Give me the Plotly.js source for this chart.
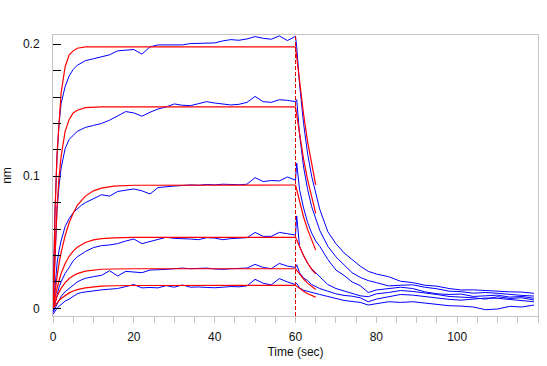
<!DOCTYPE html>
<html>
<head>
<meta charset="utf-8">
<script src="https://cdn.plot.ly/plotly-3.0.1.min.js"></script>
<style>
html,body{margin:0;padding:0;background:#fff;}
#chart{width:547px;height:366px;}
</style>
</head>
<body>
<div id="chart"></div>
<script>
// ---- data ----
const switchTime = 60;

const tBlue = [0,0.5,1,1.5,2,3,4,5,6,7,8,10,12,14,16,18,20,22,24,26,28,30,32,34,36,38,40,42,44,46,48,50,52,54,56,58,60,
  60.3,61,62,63,64,65,66,68,70,72,74,76,78,80,83,86,89,92,95,98,101,104,107,110,113,116,119];

const blue1 = [0.002,0.075,0.115,0.140,0.155,0.168,0.176,0.181,0.184,0.186,0.1876,0.189,0.1906,0.192,0.195,0.1955,0.196,0.1925,0.198,0.1995,0.1995,0.200,0.1995,0.2005,0.2008,0.2012,0.201,0.2025,0.2035,0.2030,0.204,0.2058,0.2045,0.2038,0.2063,0.2028,0.206,
  0.198,0.170,0.140,0.117,0.100,0.088,0.075,0.058,0.049,0.042,0.037,0.032,0.028,0.026,0.024,0.0205,0.0195,0.0175,0.0168,0.0150,0.0139,0.0140,0.0135,0.0128,0.0125,0.0123,0.0114];
const blue2 = [0.001,0.045,0.075,0.093,0.106,0.121,0.128,0.131,0.134,0.1355,0.137,0.1385,0.140,0.1425,0.146,0.149,0.148,0.1455,0.1485,0.151,0.1525,0.1548,0.1538,0.1535,0.155,0.1565,0.1555,0.1545,0.154,0.1545,0.156,0.1605,0.1565,0.156,0.158,0.1575,0.1565,
  0.158,0.132,0.107,0.090,0.077,0.068,0.059,0.047,0.039,0.033,0.027,0.0235,0.021,0.0195,0.017,0.0175,0.0178,0.0160,0.0148,0.0130,0.0126,0.0115,0.0120,0.0114,0.0105,0.0098,0.0093];
const blue3 = [-0.002,0.018,0.034,0.044,0.051,0.062,0.068,0.0725,0.0755,0.078,0.080,0.083,0.086,0.085,0.0885,0.0895,0.0904,0.0890,0.0866,0.0915,0.0922,0.0926,0.0930,0.0935,0.0932,0.0938,0.0935,0.0940,0.0938,0.0936,0.0940,0.0990,0.096,0.0968,0.0965,0.0995,0.097,
  0.110,0.090,0.076,0.065,0.057,0.051,0.047,0.037,0.029,0.025,0.020,0.0172,0.0120,0.0139,0.0150,0.0160,0.0150,0.0125,0.0110,0.0105,0.0108,0.0090,0.0095,0.0100,0.0085,0.0090,0.0076];
const blue4 = [-0.003,0.004,0.0116,0.016,0.020,0.0265,0.031,0.036,0.039,0.041,0.043,0.046,0.0475,0.048,0.049,0.051,0.0525,0.0490,0.0505,0.0525,0.0538,0.053,0.053,0.0525,0.052,0.0535,0.0532,0.052,0.0528,0.053,0.0535,0.0575,0.0545,0.0545,0.0575,0.0565,0.0555,
  0.070,0.047,0.040,0.034,0.030,0.027,0.024,0.018,0.015,0.013,0.011,0.0095,0.0088,0.011,0.012,0.0135,0.0128,0.0118,0.0105,0.0090,0.0086,0.0080,0.0070,0.0088,0.0075,0.0080,0.0063];
const blue5 = [-0.003,0.0,0.0038,0.0065,0.009,0.0126,0.015,0.0175,0.020,0.0215,0.0227,0.024,0.025,0.0285,0.0245,0.028,0.0275,0.027,0.029,0.029,0.0295,0.030,0.0305,0.030,0.0302,0.0305,0.0298,0.0295,0.030,0.030,0.0305,0.0333,0.031,0.030,0.034,0.032,0.031,
  0.033,0.027,0.023,0.021,0.018,0.0165,0.015,0.013,0.011,0.0098,0.0092,0.0080,0.0050,0.0070,0.0090,0.0105,0.0100,0.0088,0.0075,0.0068,0.0062,0.0070,0.0078,0.0076,0.0068,0.0060,0.0050];
const blue6 = [-0.0045,-0.002,0.0,0.0015,0.003,0.0055,0.007,0.009,0.011,0.012,0.0125,0.0132,0.014,0.0145,0.015,0.0165,0.018,0.0155,0.0158,0.0155,0.0172,0.016,0.0177,0.016,0.0162,0.0158,0.0156,0.016,0.0165,0.0163,0.017,0.022,0.019,0.0178,0.0225,0.020,0.018,
  0.019,0.0155,0.0137,0.0128,0.0120,0.0114,0.0105,0.0090,0.0075,0.0060,0.0052,0.0045,0.0025,0.0035,0.0050,0.0045,0.0050,0.0040,0.0030,0.0020,0.0017,0.0010,-0.0010,-0.0005,0.0015,0.0010,0.0025];

const tFitA = [0,0.5,1,1.5,2,3,4,5,6,8,10,12,15,20,60];
const tFitD = [60,61,62,63,64,65];

const red1A = [0,0.072,0.117,0.145,0.163,0.183,0.192,0.195,0.197,0.198,0.198,0.198,0.198,0.198,0.198];
const red2A = [0,0.045,0.077,0.099,0.115,0.134,0.143,0.148,0.150,0.152,0.1525,0.1525,0.1525,0.1525,0.1525];
const red3A = [0,0.013,0.024,0.034,0.042,0.055,0.065,0.072,0.078,0.085,0.089,0.091,0.0925,0.0932,0.0934];
const red4A = [0,0.0082,0.0152,0.0211,0.0262,0.0339,0.0394,0.0434,0.0463,0.0499,0.0518,0.0528,0.0534,0.0537,0.0538];
const red5A = [0,0.0048,0.0089,0.0123,0.0151,0.0195,0.0226,0.0247,0.0263,0.0282,0.0291,0.0296,0.0298,0.0300,0.0300];
const red6A = [0,0.0023,0.0043,0.0060,0.0074,0.0099,0.0117,0.0131,0.0142,0.0155,0.0164,0.0168,0.0171,0.0173,0.0174];

const red1D = [0.198,0.170,0.147,0.126,0.109,0.0935];
const red2D = [0.1525,0.131,0.113,0.0973,0.0837,0.072];
const red3D = [0.0934,0.0804,0.0692,0.0596,0.0513,0.0441];
const red4D = [0.0538,0.0463,0.0399,0.0343,0.0295,0.0262];
const red5D = [0.030,0.0258,0.0222,0.0191,0.0165,0.0142];
const red6D = [0.0174,0.0150,0.0129,0.0111,0.0096,0.0085];

const xTickVals = [0,20,40,60,80,100];
const yTickVals = [0,0.1,0.2];
const yTickText = ['0','0.1','0.2'];

// ---- traces ----
const blues = [blue1,blue2,blue3,blue4,blue5,blue6];
const redsA = [red1A,red2A,red3A,red4A,red5A,red6A];
const redsD = [red1D,red2D,red3D,red4D,red5D,red6D];

const traces = [];
blues.forEach(b => traces.push({x:tBlue, y:b, type:'scatter', mode:'lines',
  line:{color:'#0000ff', width:1}, hoverinfo:'skip'}));
redsA.forEach(r => traces.push({x:tFitA, y:r, type:'scatter', mode:'lines',
  line:{color:'#ff0000', width:1.2}, hoverinfo:'skip'}));
redsD.forEach(r => traces.push({x:tFitD, y:r, type:'scatter', mode:'lines',
  line:{color:'#ff0000', width:1.2}, hoverinfo:'skip'}));

const font = {family:'"Liberation Sans", Arial, sans-serif', size:12, color:'#111'};

const layout = {
  width:547, height:366,
  margin:{l:53, r:9, t:35, b:50, autoexpand:false},
  paper_bgcolor:'#fff', plot_bgcolor:'#fff',
  showlegend:false,
  font:font,
  xaxis:{
    range:[0,120], showgrid:false, zeroline:false,
    showline:true, linecolor:'#c4c4c4', linewidth:1, mirror:true,
    ticks:'outside', ticklen:6, tickcolor:'#c4c4c4', tickwidth:1,
    tickvals:xTickVals, ticklabelstandoff:4,
    minor:{dtick:5, ticks:'outside', ticklen:6, tickcolor:'#c4c4c4', tickwidth:1},
    title:{text:'Time (sec)', font:font, standoff:4}
  },
  yaxis:{
    range:[-0.0058,0.207], showgrid:false, zeroline:false, automargin:true,
    showline:true, linecolor:'#c4c4c4', linewidth:1, mirror:true,
    ticks:'inside', ticklen:8, tickcolor:'#000', tickwidth:1,
    tickvals:yTickVals, ticktext:yTickText, ticklabelstandoff:10,
    minor:{dtick:0.02, tick0:0, ticks:'inside', ticklen:8, tickcolor:'#000', tickwidth:1},
    title:{text:'nm', font:font, standoff:9}
  },
  shapes:[{type:'line', xref:'x', yref:'paper', x0:switchTime, x1:switchTime, y0:0, y1:1,
    line:{color:'#e00000', width:1, dash:'4px,2px'}}]
};

Plotly.newPlot('chart', traces, layout, {displayModeBar:false, staticPlot:true});
</script>
</body>
</html>
